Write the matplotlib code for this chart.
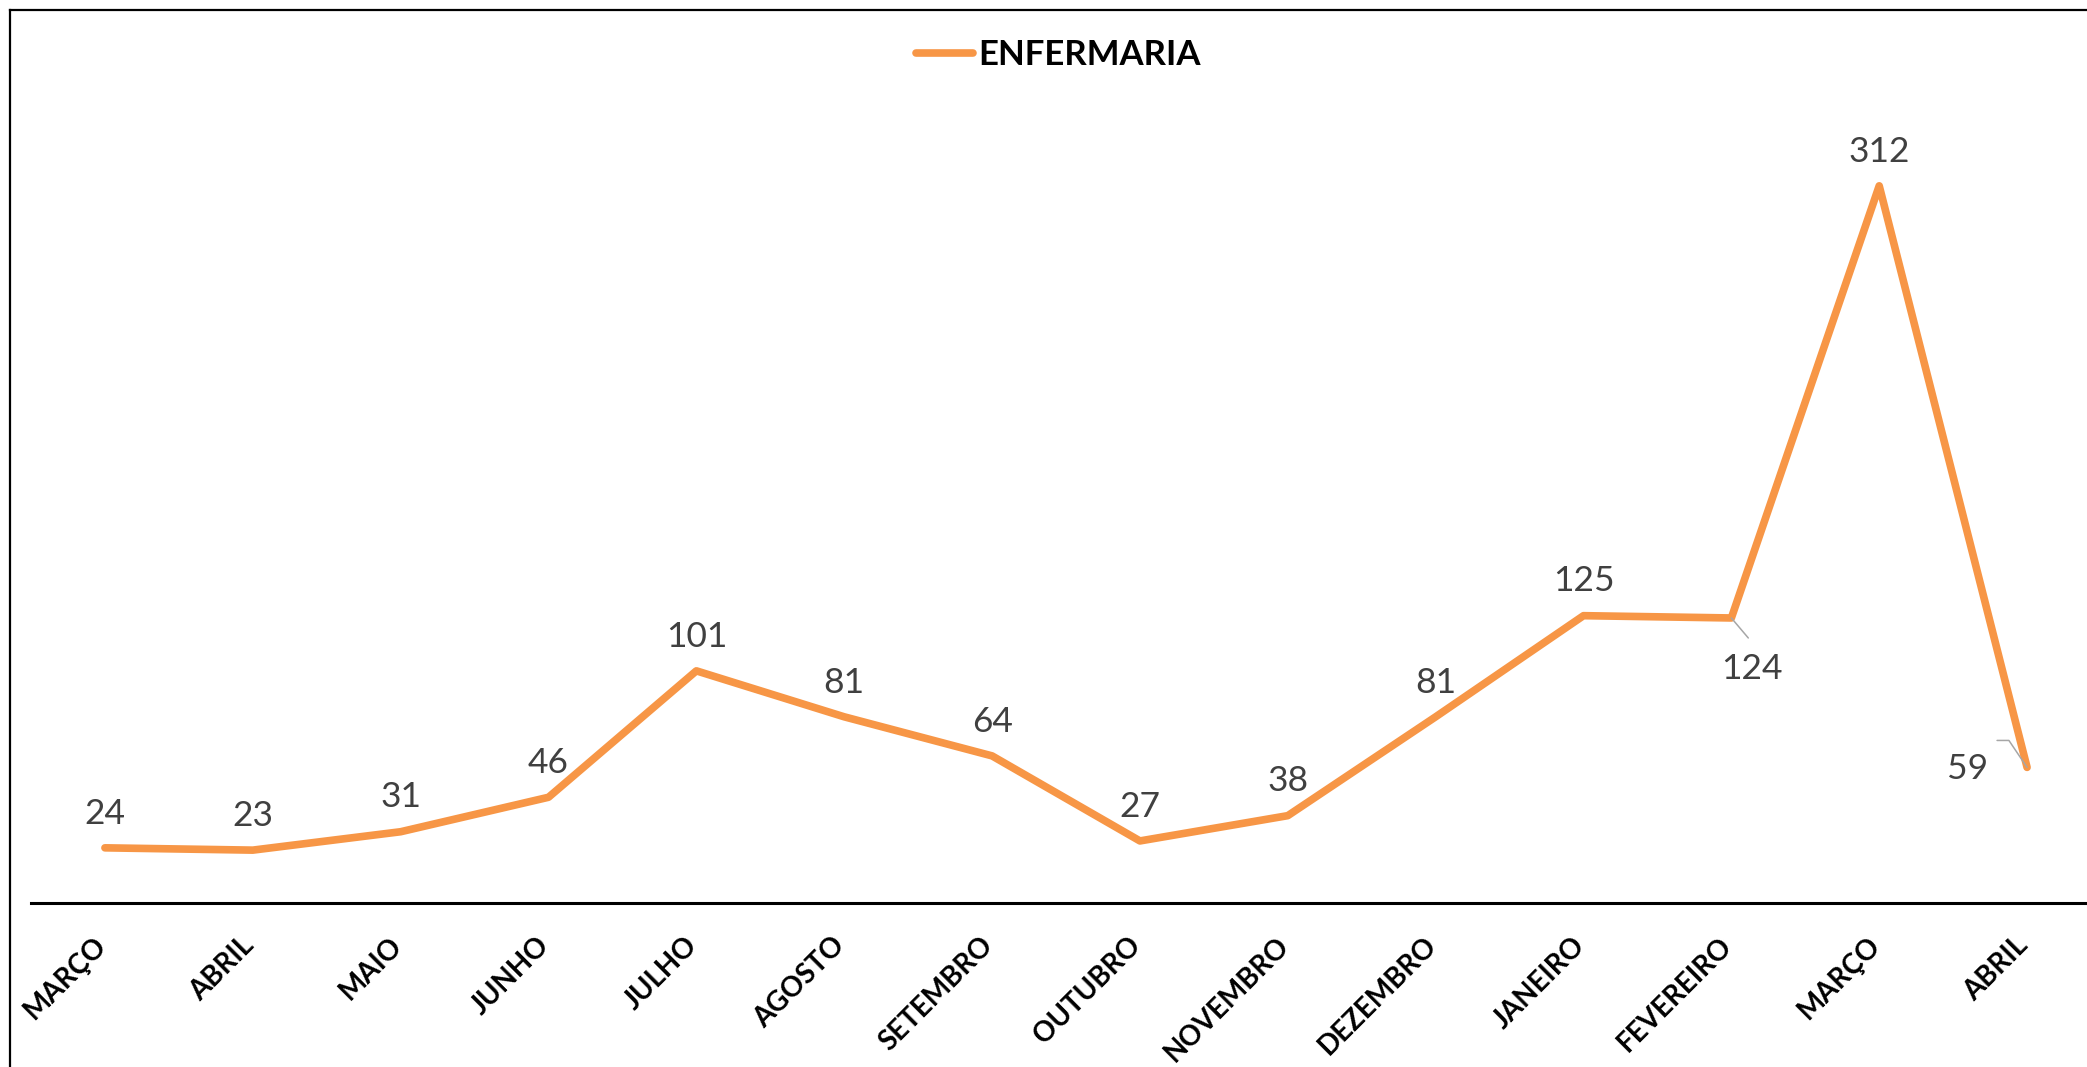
import numpy as np
import matplotlib
matplotlib.use('Agg')
import matplotlib.pyplot as plt
from matplotlib.lines import Line2D
from matplotlib.transforms import ScaledTranslation

#==============================================================================
# data
#==============================================================================
meses = ['MARÇO', 'ABRIL', 'MAIO', 'JUNHO', 'JULHO', 'AGOSTO', 'SETEMBRO',
         'OUTUBRO', 'NOVEMBRO', 'DEZEMBRO', 'JANEIRO', 'FEVEREIRO', 'MARÇO', 'ABRIL']
enfermaria = [24, 23, 31, 46, 101, 81, 64, 27, 38, 81, 125, 124, 312, 59]
serie = 'ENFERMARIA'

cor = '#F79646'
cor_txt = '#404040'
cor_guia = '#A6A6A6'

W, H = 2087, 1067
fig = plt.figure(figsize=(W / 100., H / 100.), dpi=100)
fig.patch.set_facecolor('white')

# axes placed so zero sits at y=903px and points span 105..2027px
x0 = 31. / W
x1 = 2101. / W
y0 = (H - 903.) / H
ymax = 350
yh = ymax * 2.2986 / H
ax = fig.add_axes([x0, y0, x1 - x0, yh])

x = np.arange(len(meses))
ax.plot(x, enfermaria, color=cor, lw=5.5, solid_capstyle='round',
        solid_joinstyle='round', label=serie)

ax.set_xlim(-0.5, len(meses) - 0.5)
ax.set_ylim(0, ymax)
for s in ['top', 'left', 'right']:
    ax.spines[s].set_visible(False)
ax.spines['bottom'].set_linewidth(2.2)
ax.spines['bottom'].set_color('black')
ax.set_yticks([])
ax.set_xticks(x)
ax.set_xticklabels(meses, rotation=45, ha='right', va='top',
                   fontsize=20, fontweight='bold', family='Lato')
ax.tick_params(axis='x', length=0, pad=21)
desl = ScaledTranslation(6 / 100., 0, fig.dpi_scale_trans)
for lab in ax.get_xticklabels():
    lab.set_transform(lab.get_transform() + desl)

#==============================================================================
# data labels
#==============================================================================
# offsets in points: (dx, dy) for label baseline centre
offs = {11: (15, -44), 13: (-42.5, -8.6)}
for i, v in enumerate(enfermaria):
    dx, dy = offs.get(i, (0, 17.5))
    ax.annotate(str(v), xy=(i, v), xytext=(dx, dy), textcoords='offset points',
                ha='center', va='baseline', fontsize=25.5, color=cor_txt,
                family='Lato')

# leader lines
ax.annotate('', xy=(11, enfermaria[11]), xytext=(12.2, -14.4),
            textcoords='offset points',
            arrowprops=dict(arrowstyle='-', color=cor_guia, lw=1.1,
                            shrinkA=0, shrinkB=0))
ax.annotate('', xy=(13, enfermaria[13]), xytext=(-21.6, 19.4),
            textcoords='offset points',
            arrowprops=dict(arrowstyle='-', color=cor_guia, lw=1.1,
                            shrinkA=0, shrinkB=0,
                            connectionstyle='angle,angleA=0,angleB=-56,rad=0'))

#==============================================================================
# legend and frame
#==============================================================================
fig.legend(loc='center', bbox_to_anchor=(0.507, 1 - 55. / H), frameon=False,
           prop={'family': 'Lato', 'weight': 'bold', 'size': 25},
           handlelength=1.64, handletextpad=0.15)

bx = 9.5 / W
by = 1 - 9.5 / H
fig.add_artist(Line2D([bx, bx], [-0.01, by], transform=fig.transFigure,
                      color='black', lw=1.6))
fig.add_artist(Line2D([bx, 1.01], [by, by], transform=fig.transFigure,
                      color='black', lw=1.6))

plt.savefig('out.png', dpi=100)
